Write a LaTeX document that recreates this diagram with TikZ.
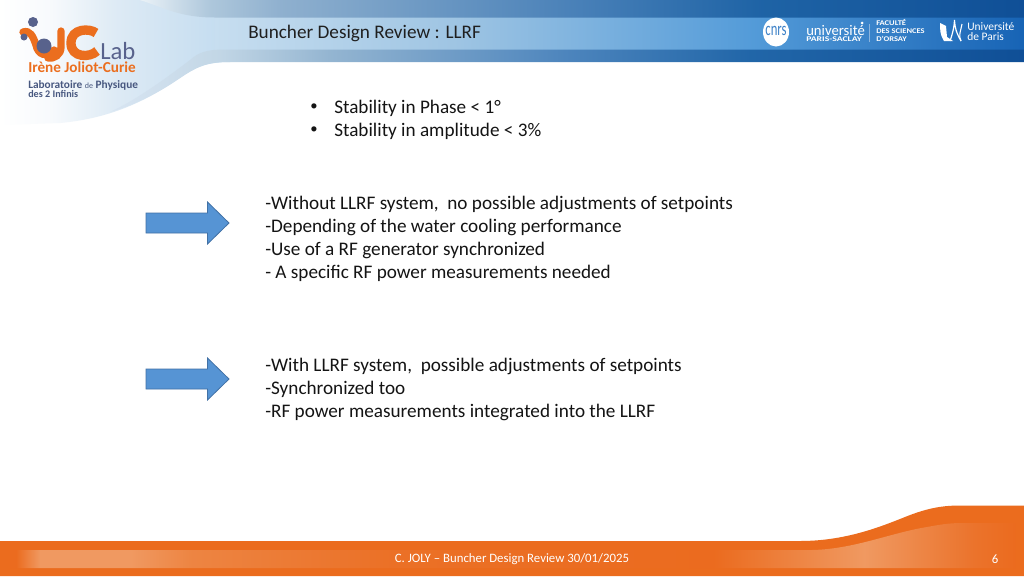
\documentclass[tikz,border=0pt]{standalone}
\usepackage{fontspec}
\usepackage{graphicx}
\setmainfont{Carlito}
\definecolor{orangemain}{RGB}{235,108,30}
\definecolor{arrowfill}{RGB}{86,148,212}
\definecolor{arrowline}{RGB}{66,113,165}
\definecolor{logoorange}{RGB}{235,110,30}
\definecolor{logogrey}{RGB}{88,98,140}
\definecolor{logotext}{RGB}{72,88,128}
\definecolor{cnrsblue}{RGB}{62,130,200}
% horizontal shadings: the shaded path's width runs over 25bp..75bp
\pgfdeclarehorizontalshading{backdrop}{100bp}{
  rgb(0bp)=(1,1,1); rgb(25bp)=(1,1,1); rgb(36bp)=(0.97,0.98,0.99); rgb(50bp)=(0.87,0.92,0.96); rgb(75bp)=(0.76,0.86,0.94); rgb(100bp)=(0.76,0.86,0.94)}
\pgfdeclarehorizontalshading{topband}{100bp}{
  rgb(0bp)=(0.92,0.95,0.97); rgb(25bp)=(0.92,0.95,0.97); rgb(29bp)=(0.68,0.78,0.86); rgb(33bp)=(0.56,0.69,0.81); rgb(50bp)=(0.28,0.50,0.72); rgb(60bp)=(0.12,0.39,0.65); rgb(75bp)=(0.06,0.31,0.59); rgb(100bp)=(0.06,0.31,0.59)}
\pgfdeclarehorizontalshading{midband}{100bp}{
  rgb(0bp)=(0.78,0.87,0.94); rgb(25bp)=(0.78,0.87,0.94); rgb(40bp)=(0.62,0.77,0.89); rgb(58bp)=(0.33,0.61,0.85); rgb(75bp)=(0.09,0.39,0.71); rgb(100bp)=(0.09,0.39,0.71)}
\pgfdeclarehorizontalshading{lowband}{100bp}{
  rgb(0bp)=(0.85,0.90,0.95); rgb(25bp)=(0.85,0.90,0.95); rgb(31bp)=(0.76,0.84,0.90); rgb(37bp)=(0.58,0.71,0.82); rgb(50bp)=(0.30,0.52,0.74); rgb(60bp)=(0.13,0.40,0.66); rgb(75bp)=(0.06,0.31,0.59); rgb(100bp)=(0.06,0.31,0.59)}
\pgfdeclarehorizontalshading{footband}{100bp}{
  rgb(0bp)=(0.92,0.42,0.12); rgb(25.3bp)=(0.92,0.42,0.12); rgb(26.5bp)=(0.94,0.60,0.38); rgb(31bp)=(0.94,0.60,0.38); rgb(34bp)=(0.93,0.52,0.26); rgb(44bp)=(0.92,0.44,0.15); rgb(60bp)=(0.92,0.42,0.12); rgb(67.5bp)=(0.94,0.60,0.38); rgb(73bp)=(0.92,0.45,0.17); rgb(75bp)=(0.92,0.42,0.12); rgb(100bp)=(0.92,0.42,0.12)}
\tikzset{
  body/.style={font=\fontsize{14.4}{16}\selectfont,anchor=west,inner sep=0pt,text=black!92},
  dot/.style={font=\fontsize{11}{12}\selectfont,inner sep=0pt,text=black!92},
  bigarrow/.style={fill=arrowfill,draw=arrowline,line width=0.6pt},
  logotxt/.style={anchor=base west,inner sep=0pt},
  foottxt/.style={inner sep=0pt,text=white,font=\fontsize{9.6}{11}\selectfont},
}
\begin{document}
\begin{tikzpicture}[x=0.75pt,y=-0.75pt]
\useasboundingbox (0,0) rectangle (1024,576);
\fill[white] (0,0) rectangle (1024,576);
% header pale backdrop
\shade[shading=backdrop] (0,0) -- (230,0) -- (230,62) .. controls (205,62) and (195,68) .. (180,78) .. controls (150,98) and (115,118) .. (60,123) -- (0,125) -- cycle;
% middle band
\shade[shading=midband] (215,16) -- (1024,16) -- (1024,52) -- (215,52) -- cycle;
% top band
\shade[shading=topband] (140,0) .. controls (165,8) and (180,17.5) .. (215,17.5) -- (1024,17.5) -- (1024,0) -- cycle;
% lower band
\shade[shading=lowband] (110,112) .. controls (140,98) and (170,75) .. (190,60) .. controls (198,53) and (205,49.5) .. (225,49.5) -- (1024,49.5) -- (1024,62) -- (228,62) .. controls (205,62) and (195,68) .. (180,78) .. controls (160,92) and (135,105) .. (110,112) -- cycle;
% footer
\fill[orangemain] (0,541) -- (800,541) .. controls (845,541) and (880,527) .. (905,517) .. controls (925,509) and (940,505.5) .. (960,505.5) -- (1024,505.5) -- (1024,576) -- (0,576) -- cycle;
\shade[shading=footband] (10,550) -- (812,550) .. controls (855,549) and (890,533) .. (927,527) .. controls (938,525) and (948,523) .. (962,523) -- (1015,523) -- (1015,568) -- (10,568) -- cycle;
% IJCLab logo
\fill[logogrey] (33,22) circle (5);
\draw[logoorange,line width=5.5pt,line cap=round] (23,32) .. controls (30,30) and (33,36) .. (36,45) .. controls (38,55) and (47,58) .. (54,50);
\fill[logogrey] (44,46) circle (7.5);
\fill[logogrey] (24,37) circle (3.5);
\draw[logoorange,line width=5.5pt,line cap=round] (61,31) -- (61,47) .. controls (61,55) and (54,59) .. (48,58);
\draw[logoorange,line width=7pt] (96,33) .. controls (90,28) and (71,28) .. (71,43) .. controls (71,58) and (90,58) .. (97,51);
\node[logotxt,text=logogrey,font=\fontsize{18.5}{18}\selectfont] (lab) at (100,59) {Lab};
\node[logotxt,text=logoorange,font=\bfseries\fontsize{11.4}{12}\selectfont] (irene) at (28,72) {Irène Joliot-Curie};
\node[logotxt,text=logotext,font=\fontsize{8.5}{9}\selectfont] (labo) at (28,88) {\textbf{Laboratoire} {\fontsize{6}{7}\selectfont de} \textbf{Physique}};
\node[logotxt,text=logotext,font=\fontsize{7.6}{9}\selectfont] (des) at (28,97.5) {\textbf{des 2 Infinis}};
% header title
\node[body,text=black!88] (title) at (248,33.5) {Buncher Design Review : LLRF};
% right logos
\fill[white] (776,32) ellipse (13 and 14.5);
\node[inner sep=0pt,text=cnrsblue,font=\fontsize{9.5}{11}\selectfont] (cnrs) at (776,31) {\scalebox{1}[1.5]{cnrs}};
\node[logotxt,text=white,font=\fontsize{11}{12}\selectfont] (univ) at (806,35) {université};
\fill[white] (862,23) circle (1.5);
\node[logotxt,text=white,font=\bfseries\fontsize{5.4}{6}\selectfont] (ps) at (806,41.8) {\scalebox{1.35}[1]{PARIS-SACLAY}};
\draw[white!40!cnrsblue,line width=0.5pt] (869,24) -- (869,42);
\node[logotxt,text=white,font=\bfseries\fontsize{5.4}{6}\selectfont] (fac) at (876,25) {\scalebox{1.18}[1]{FACULTÉ}};
\node[logotxt,text=white,font=\bfseries\fontsize{5.4}{6}\selectfont] (sci) at (876,33.4) {\scalebox{1.18}[1]{DES SCIENCES}};
\node[logotxt,text=white,font=\bfseries\fontsize{5.4}{6}\selectfont] (ors) at (876,41.8) {\scalebox{1.18}[1]{D'ORSAY}};
\fill[white] (940,23) -- (946,26) -- (947,37) -- (953,41) -- (944,41) .. controls (940,35) and (940,30) .. (940,23) -- cycle;
\draw[white,line width=0.9pt] (950,41) .. controls (953,32) and (954,28) .. (954.5,20) .. controls (955,28) and (956,32) .. (961,41);
\draw[white,line width=0.8pt] (961,41) .. controls (958,36) and (961,30) .. (962,24);
\node[logotxt,text=white,font=\fontsize{8.6}{9}\selectfont] (up1) at (967,30.7) {Université};
\node[logotxt,text=white,font=\fontsize{8.6}{9}\selectfont] (up2) at (967,40.7) {de Paris};
% bullets
\node[dot] (b1) at (314,107.5) {•};
\node[body] (t1) at (334,108.5) {Stability in Phase < 1°};
\node[dot] (b2) at (314,130.5) {•};
\node[body] (t2) at (334,131.5) {Stability in amplitude < 3\%};
% arrows
\fill[bigarrow] (146,213) -- (207.5,213) -- (207.5,202) -- (229,223) -- (207.5,244) -- (207.5,233) -- (146,233) -- cycle;
\fill[bigarrow] (146,369) -- (207.5,369) -- (207.5,358) -- (229,379) -- (207.5,400) -- (207.5,389) -- (146,389) -- cycle;
% text blocks
\node[body] (a1) at (265,204.5) {-Without LLRF system,\ \ no possible adjustments of setpoints};
\node[body] (a2) at (265,227.5) {-Depending of the water cooling performance};
\node[body] (a3) at (265,250.5) {-Use of a RF generator synchronized};
\node[body] (a4) at (265,273.5) {- A specific RF power measurements needed};
\node[body] (c1) at (265,366.5) {-With LLRF system,\ \ possible adjustments of setpoints};
\node[body] (c2) at (265,389.5) {-Synchronized too};
\node[body] (c3) at (265,412.5) {-RF power measurements integrated into the LLRF};
% footer text
\node[foottxt] (foot) at (512,559) {C. JOLY – Buncher Design Review 30/01/2025};
\node[foottxt] (num) at (995,559) {6};
\end{tikzpicture}
\end{document}
